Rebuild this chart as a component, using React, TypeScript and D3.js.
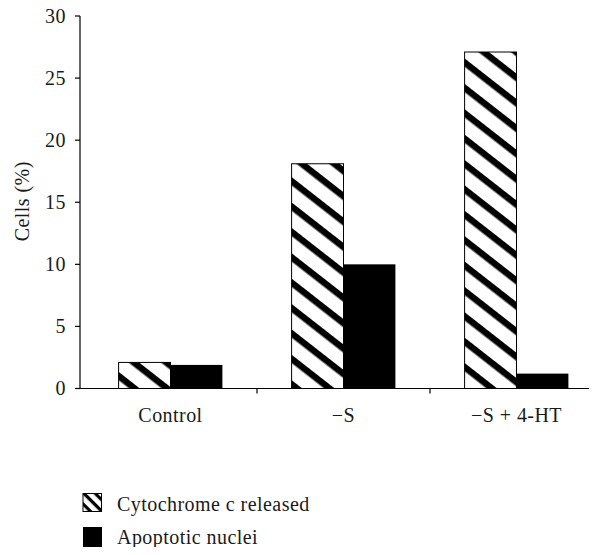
import React from "react";
import * as d3 from "d3";

const categories = ["Control", "\u2212S", "\u2212S + 4-HT"];
const seriesNames = ["Cytochrome c released", "Apoptotic nuclei"];
const cytochrome = [2.1, 18.1, 27.1];
const apoptotic = [1.9, 10.0, 1.2];
const yTicks = [0, 5, 10, 15, 20, 25, 30];

const W = 597;
const H = 555;
const TS: React.CSSProperties = { fontFamily: "Liberation Serif", fontSize: 20, fill: "#1a1a1a", letterSpacing: 0.45 };

export default function App() {
  const y = d3.scaleLinear().domain([0, 30]).range([388.5, 16]);
  const x = d3.scaleBand<string>().domain(categories).range([84, 603]).padding(0);
  const bw = x.bandwidth();
  const sub = d3.scaleBand<string>().domain(seriesNames).range([bw * 0.2, bw * 0.8]).padding(0);
  const boundaries = categories.slice(1).map((c) => x(c) as number);

  return (
    <div style={{ margin: -8 }}>
      <svg width={W} height={H} style={{ display: "block", background: "#fff" }}>
        <defs>
          <pattern id="hatch" patternUnits="userSpaceOnUse" width="10" height="20" patternTransform="rotate(38)">
            <rect x="0" y="0" width="10" height="20" fill="#fff" />
            <rect x="0" y="0" width="10" height="6.5" fill="#000" />
          </pattern>
          <pattern id="hatchLegend" patternUnits="userSpaceOnUse" width="10" height="8" patternTransform="rotate(45)">
            <rect x="0" y="0" width="10" height="8" fill="#fff" />
            <rect x="0" y="0" width="10" height="3.2" fill="#000" />
          </pattern>
        </defs>

        {categories.map((c, i) => {
          const x0 = x(c) as number;
          const vals = [cytochrome[i], apoptotic[i]];
          return (
            <g key={c}>
              {seriesNames.map((s, j) => {
                const bx = x0 + (sub(s) as number);
                const by = y(vals[j]);
                const bh = y(0) - by;
                return j === 0 ? (
                  <rect key={s} x={bx} y={by} width={sub.bandwidth()} height={bh} fill="url(#hatch)" stroke="#000" strokeWidth={1} />
                ) : (
                  <rect key={s} x={bx} y={by} width={sub.bandwidth()} height={bh} fill="#000" />
                );
              })}
            </g>
          );
        })}

        <line x1={80} x2={80} y1={y(30)} y2={y(0)} stroke="#000" strokeWidth={1.2} />
        {yTicks.map((t) => (
          <g key={t}>
            <line x1={75} x2={80} y1={y(t)} y2={y(t)} stroke="#000" strokeWidth={1.2} />
            <text x={66} y={y(t)} dy="0.34em" textAnchor="end" style={TS}>
              {t}
            </text>
          </g>
        ))}
        <text transform={`translate(29,${y(15) - 1}) rotate(-90)`} textAnchor="middle" style={TS}>
          Cells (%)
        </text>

        <line x1={80} x2={597} y1={y(0)} y2={y(0)} stroke="#000" strokeWidth={1.2} />
        {boundaries.map((b, i) => (
          <line key={i} x1={b} x2={b} y1={y(0)} y2={y(0) + 5} stroke="#000" strokeWidth={1.2} />
        ))}
        {categories.map((c) => (
          <text key={c} x={(x(c) as number) + bw / 2} y={421.5} textAnchor="middle" style={TS}>
            {c}
          </text>
        ))}

        <rect x={83} y={493.5} width={18.5} height={18} fill="url(#hatchLegend)" stroke="#000" strokeWidth={1} />
        <text x={117} y={511} style={TS}>
          {seriesNames[0]}
        </text>
        <rect x={83} y={527} width={19} height={21.5} fill="#000" />
        <text x={117} y={544} style={TS}>
          {seriesNames[1]}
        </text>
      </svg>
    </div>
  );
}
